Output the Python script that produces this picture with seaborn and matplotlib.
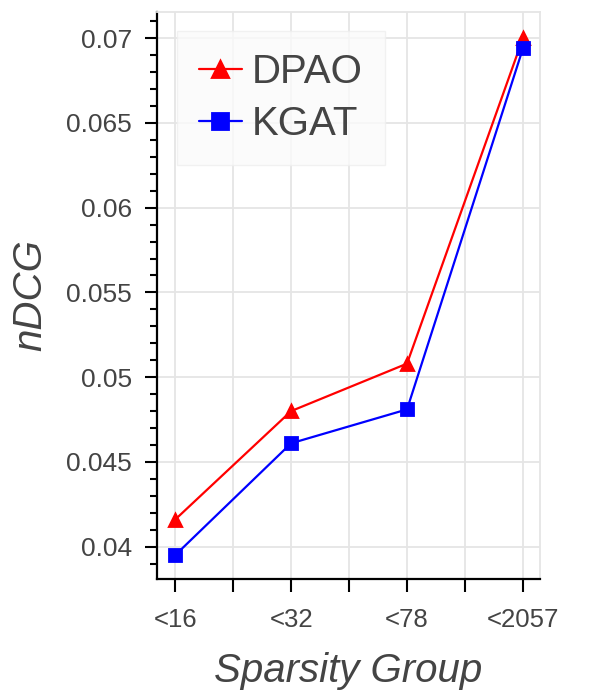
import numpy as np
import pandas as pd
import matplotlib
matplotlib.use("Agg")
import matplotlib.pyplot as plt
import seaborn as sns
from matplotlib.ticker import FixedLocator, MultipleLocator

groups = ["<16", "<32", "<78", "<2057"]
dpao = [0.0416, 0.0480, 0.0508, 0.0700]
kgat = [0.0395, 0.0461, 0.0481, 0.0694]
models = ["DPAO", "KGAT"]
y_ticks = [0.04, 0.045, 0.05, 0.055, 0.06, 0.065, 0.07]
y_tick_labels = ["0.04", "0.045", "0.05", "0.055", "0.06", "0.065", "0.07"]

df = pd.DataFrame({
    "group": groups * 2,
    "ndcg": dpao + kgat,
    "model": [models[0]] * len(groups) + [models[1]] * len(groups),
})

sns.set_style("white")
plt.rcParams["font.family"] = ["Liberation Sans", "DejaVu Sans"]
text_color = "#444444"
grid_color = "#e5e5e5"

fig = plt.figure(figsize=(6, 7), dpi=100)
ax = fig.add_axes([0.262, 0.173, 0.638, 0.81])

sns.pointplot(
    data=df, x="group", y="ndcg", hue="model", order=groups, hue_order=models,
    palette={"DPAO": "red", "KGAT": "blue"}, markers=["^", "s"], linestyles=["-", "-"],
    errorbar=None, ax=ax, zorder=3,
)
for line in ax.lines:
    line.set_linewidth(1.6)
    line.set_markersize(8.5)

ax.set_xlim(-0.155, 3.147)
ax.set_ylim(0.0381, 0.07155)

half = np.arange(0, len(groups) - 0.5 + 0.01, 0.5)
ax.xaxis.set_major_locator(FixedLocator(half))
ax.set_xticklabels([groups[int(p)] if p == int(p) else "" for p in half])
ax.yaxis.set_major_locator(FixedLocator(y_ticks))
ax.set_yticklabels(y_tick_labels)
ax.yaxis.set_minor_locator(MultipleLocator(0.001))

ax.grid(True, which="major", color=grid_color, linewidth=1.3, zorder=0)
ax.set_axisbelow(True)

for side in ["left", "bottom"]:
    ax.spines[side].set_color("black")
    ax.spines[side].set_linewidth(1.6)
for side in ["top", "right"]:
    ax.spines[side].set_color(grid_color)
    ax.spines[side].set_linewidth(1.3)

ax.tick_params(axis="x", which="major", bottom=True, direction="out", length=9, width=1.5,
               color="black", labelsize=18.5, labelcolor=text_color, pad=12)
ax.tick_params(axis="y", which="major", left=True, direction="out", length=9, width=1.5,
               color="black", labelsize=19, labelcolor=text_color, pad=9)
ax.tick_params(axis="y", which="minor", left=True, direction="out", length=5, width=1.5,
               color="black")

ax.set_xlabel("Sparsity Group", fontsize=29, fontstyle="italic", color=text_color, labelpad=14)
ax.set_ylabel("nDCG", fontsize=29, fontstyle="italic", color=text_color, labelpad=12)

handles, labels = ax.get_legend_handles_labels()
for h in handles:
    h.set_linewidth(1.6)
    h.set_markersize(11)
leg = ax.legend(handles, labels, loc="upper left", bbox_to_anchor=(0.052, 0.9665),
                borderaxespad=0, fontsize=29, handlelength=1.05, handletextpad=0.25,
                labelspacing=0.35, borderpad=0.55, frameon=True, fancybox=False,
                labelcolor=text_color)
leg.get_frame().set_facecolor("#fafafa")
leg.get_frame().set_edgecolor("#efefef")
leg.get_frame().set_linewidth(1.0)

fig.savefig("out.png", dpi=100)
